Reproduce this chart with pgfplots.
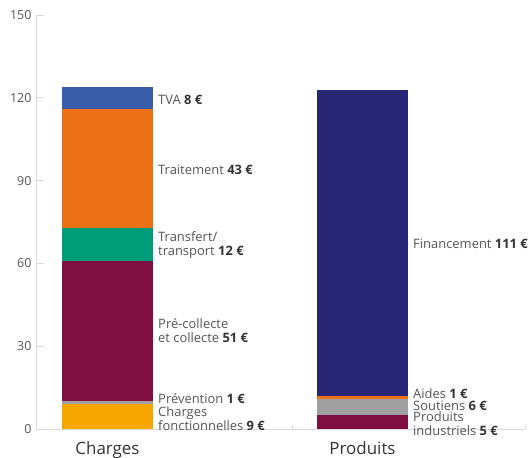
\documentclass[border=0pt]{standalone}
\usepackage{pgfplots}
\pgfplotsset{compat=1.18}
\usepackage{fontspec}
\setmainfont{Open Sans}
\definecolor{cYel}{HTML}{F7A800}
\definecolor{cPrev}{HTML}{A0A0A0}
\definecolor{cMar}{HTML}{7F0F3E}
\definecolor{cGrn}{HTML}{009E78}
\definecolor{cOra}{HTML}{EC7016}
\definecolor{cBlu}{HTML}{3A5DAA}
\definecolor{cNavy}{HTML}{2A2676}
\definecolor{cGry}{HTML}{A0A0A0}
\definecolor{axgrey}{HTML}{DADADA}
\definecolor{txt}{HTML}{555555}
\definecolor{dark}{HTML}{333333}
\tikzset{lbl/.style={anchor=west, align=left, inner sep=0pt, text=txt, font=\fontsize{13}{14}\selectfont}}
\begin{document}
\begin{tikzpicture}[x=1bp,y=1bp]
\path[use as bounding box] (0,0) rectangle (529,458);
\begin{axis}[
  at={(36bp,29bp)}, anchor=south west,
  scale only axis, width=489bp, height=414bp,
  xmin=0, xmax=489, ymin=0, ymax=150,
  ybar stacked, bar shift=0pt, bar width=91,
  axis lines=left, axis line style={axgrey, line width=0.8pt, -},
  ytick={0,30,60,90,120,150},
  xtick={256,489}, xticklabels={},
  tick align=inside,
  ytick style={axgrey, line width=0.8pt, /pgfplots/major tick length=8bp},
  xtick style={axgrey, line width=0.8pt, /pgfplots/major tick length=4bp},
  yticklabel style={font=\fontsize{12.5}{15}\selectfont, text=txt, xshift=-1bp},
  /pgf/number format/assume math mode=true,
  clip=false,
  every axis plot/.append style={draw=none},
]
% Charges (x=71.5), Produits (x=326.5)
\addplot[fill=cYel]  coordinates {(71.5,9)  (326.5,0)};
\addplot[fill=cPrev] coordinates {(71.5,1)  (326.5,0)};
\addplot[fill=cMar]  coordinates {(71.5,51) (326.5,0)};
\addplot[fill=cGrn]  coordinates {(71.5,12) (326.5,0)};
\addplot[fill=cOra]  coordinates {(71.5,43) (326.5,0)};
\addplot[fill=cBlu]  coordinates {(71.5,8)  (326.5,0)};
\addplot[fill=cMar]  coordinates {(71.5,0)  (326.5,5)};
\addplot[fill=cGry]  coordinates {(71.5,0)  (326.5,6)};
\addplot[fill=cOra]  coordinates {(71.5,0)  (326.5,1)};
\addplot[fill=cNavy] coordinates {(71.5,0)  (326.5,111)};

\node[lbl] at (axis cs:122,119.2) {TVA \textcolor{dark}{\textbf{8 €}}};
\node[lbl] at (axis cs:122,93.8) {Traitement \textcolor{dark}{\textbf{43 €}}};
\node[lbl] at (axis cs:122,66.7) {Transfert/\\transport \textcolor{dark}{\textbf{12 €}}};
\node[lbl] at (axis cs:122,35.5) {Pré-collecte\\et collecte \textcolor{dark}{\textbf{51 €}}};
\node[lbl] at (axis cs:122,10.9) {Prévention \textcolor{dark}{\textbf{1 €}}};
\node[lbl] at (axis cs:122,3.6) {Charges\\fonctionnelles \textcolor{dark}{\textbf{9 €}}};
\node[lbl] at (axis cs:377,67) {Financement \textcolor{dark}{\textbf{111 €}}};
\node[lbl] at (axis cs:377,12.9) {Aides \textcolor{dark}{\textbf{1 €}}};
\node[lbl] at (axis cs:377,8.5) {Soutiens \textcolor{dark}{\textbf{6 €}}};
\node[lbl] at (axis cs:377,1.8) {Produits\\industriels \textcolor{dark}{\textbf{5 €}}};

\node[anchor=base, text=dark, font=\fontsize{17}{18}\selectfont] at ([yshift=-26bp]axis cs:71.5,0) {Charges};
\node[anchor=base, text=dark, font=\fontsize{17}{18}\selectfont] at ([yshift=-26bp]axis cs:326.5,0) {Produits};
\end{axis}
\end{tikzpicture}
\end{document}
